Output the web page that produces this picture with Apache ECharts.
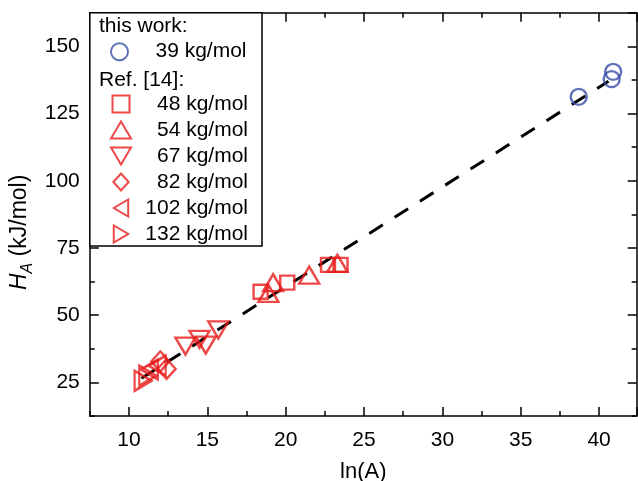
<!DOCTYPE html>
<html>
<head>
<meta charset="utf-8">
<script src="https://cdn.jsdelivr.net/npm/echarts@6/dist/echarts.min.js"></script>
<style>html,body{margin:0;padding:0;background:#fff}#c{width:638px;height:481px}</style>
</head>
<body>
<div id="c"></div>
<script>
// ---- data (ln(A), H_A in kJ/mol) ----
const thisWork39 = [[38.7, 131.2], [40.9, 140.5], [40.8, 137.8]];
const ref48  = [[18.4, 58.7], [20.1, 62.1], [22.7, 68.7], [23.5, 68.7]];
const ref54  = [[18.9, 58.1], [19.2, 62.1], [21.5, 64.9], [23.3, 69.3]];
const ref67  = [[13.6, 38.5], [14.5, 41.0], [14.9, 38.9], [15.7, 44.5]];
const ref82  = [[12.0, 32.8], [12.4, 30.0]];
const ref102 = [[11.3, 29.8], [11.8, 31.2]];
const ref132 = [[10.9, 25.6], [11.2, 27.5]];
const fitLine = [[10.8, 26.5], [40.6, 137.0]];
const seriesNames = ['39 kg/mol', '48 kg/mol', '54 kg/mol', '67 kg/mol', '82 kg/mol', '102 kg/mol', '132 kg/mol'];
const legendHeaders = ['this work:', 'Ref. [14]:'];
const xLabel = 'ln(A)';
const yLabelRich = '{i|H}{s|A} (kJ/mol)';

// ---- layout ----
const W = 638, H = 481;
const PL = 89.8, PR = 636.7, PT = 12.7, PB = 416;
const XMIN = 7.5, XMAX = 42.4, YMIN = 12.5, YMAX = 162.5;
const xpx = v => PL + (v - XMIN) / (XMAX - XMIN) * (PR - PL);
const ypx = v => PB - (v - YMIN) / (YMAX - YMIN) * (PB - PT);
const FONT = 'Liberation Sans, Arial, sans-serif';
const RED = '#e81c1c', BLUE = '#3a4ea8';
const lineW = 1.5;

const ICONS = {
  circle: 'circle',
  square: 'path://M0,0 L15,0 L15,15 L0,15 Z',
  up: 'path://M10,0 L20,17 L0,17 Z',
  down: 'path://M0,0 L20,0 L10,17 Z',
  diamond: 'path://M9,0 L18,10 L9,20 L0,10 Z',
  left: 'path://M0,10 L17,0 L17,20 Z',
  right: 'path://M0,0 L17,10 L0,20 Z'
};

const chart = echarts.init(document.getElementById('c'), null, {renderer: 'canvas'});

function minorX(pos) {
  return {gridIndex: 0, type: 'value', min: XMIN, max: XMAX, interval: 2.5, position: pos,
    axisLine: {show: true, onZero: false, lineStyle: {color: '#000', width: lineW}},
    axisTick: {show: true, inside: true, length: 5, lineStyle: {color: '#000', width: lineW}},
    axisLabel: {show: false}, splitLine: {show: false}};
}
function minorY(pos) {
  return {gridIndex: 0, type: 'value', min: YMIN, max: YMAX, interval: 12.5, position: pos,
    axisLine: {show: true, onZero: false, lineStyle: {color: '#000', width: lineW}},
    axisTick: {show: true, inside: true, length: 5, lineStyle: {color: '#000', width: lineW}},
    axisLabel: {show: false}, splitLine: {show: false}};
}

const xMain = minorX('bottom');
xMain.name = xLabel; xMain.nameLocation = 'middle'; xMain.nameGap = 45;
xMain.nameTextStyle = {fontSize: 22, color: '#000', fontFamily: FONT};
const yMain = minorY('left');
yMain.name = yLabelRich; yMain.nameLocation = 'middle'; yMain.nameGap = 54;
yMain.nameTextStyle = {fontSize: 23, color: '#000', fontFamily: FONT, padding: [0, 36, 0, 0],
  rich: {i: {fontSize: 23, fontStyle: 'italic', fontFamily: FONT, color: '#000'},
         s: {fontSize: 16, fontStyle: 'italic', fontFamily: FONT, color: '#000', verticalAlign: 'bottom', lineHeight: 32}}};

function scatter(name, data, symbol, size, color, rot) {
  return {name: name, type: 'scatter', xAxisIndex: 0, yAxisIndex: 0, data: data,
    symbol: symbol, symbolSize: size, symbolRotate: rot || 0,
    itemStyle: {color: 'rgba(255,255,255,0)', borderColor: color, borderWidth: 2.4},
    emphasis: {disabled: true}, z: 3};
}

const legendCommon = {orient: 'vertical', left: 110, itemWidth: 20, itemHeight: 17, itemGap: 5, padding: 0,
  selectedMode: false, z: 5,
  formatter: n => '{r|' + n + '}',
  textStyle: {fontSize: 21, color: '#000', fontFamily: FONT,
    rich: {r: {fontSize: 21, color: '#000', fontFamily: FONT, width: 112, align: 'right'}}}};

const legendIcons = [ICONS.circle, ICONS.square, ICONS.up, ICONS.down, ICONS.diamond, ICONS.left, ICONS.right];
const legendItems = seriesNames.map((n, i) => ({name: n, icon: legendIcons[i]}));

const gridBase = {outerBoundsMode: 'none', containLabel: false};

const option = {
  animation: false,
  backgroundColor: '#fff',
  textStyle: {fontFamily: FONT},
  grid: [
    Object.assign({left: PL, top: PT, right: W - PR, bottom: H - PB}, gridBase),
    Object.assign({left: xpx(10), top: PT, right: W - PR, bottom: H - PB}, gridBase),
    Object.assign({left: PL, top: PT, right: W - PR, bottom: H - ypx(25)}, gridBase)
  ],
  xAxis: [
    xMain,
    minorX('top'),
    {gridIndex: 1, type: 'value', min: 10, max: XMAX, interval: 5, position: 'bottom',
      axisLine: {show: false}, splitLine: {show: false},
      axisTick: {show: true, inside: true, length: 9, lineStyle: {color: '#000', width: lineW}},
      axisLabel: {fontSize: 21, color: '#000', fontFamily: FONT, margin: 14,
        formatter: v => (Math.abs(v % 5) < 1e-9 ? String(v) : '')}},
    {gridIndex: 1, type: 'value', min: 10, max: XMAX, interval: 5, position: 'top',
      axisLine: {show: false}, splitLine: {show: false}, axisLabel: {show: false},
      axisTick: {show: true, inside: true, length: 9, lineStyle: {color: '#000', width: lineW}}},
    {gridIndex: 2, type: 'value', min: 0, max: 1, show: false}
  ],
  yAxis: [
    yMain,
    minorY('right'),
    {gridIndex: 1, type: 'value', min: 0, max: 1, show: false},
    {gridIndex: 2, type: 'value', min: 25, max: YMAX, interval: 25, position: 'left',
      axisLine: {show: false}, splitLine: {show: false},
      axisTick: {show: true, inside: true, length: 9, lineStyle: {color: '#000', width: lineW}},
      axisLabel: {fontSize: 21, color: '#000', fontFamily: FONT, margin: 10,
        formatter: v => (Math.abs(v % 25) < 1e-9 ? String(v) : '')}},
    {gridIndex: 2, type: 'value', min: 25, max: YMAX, interval: 25, position: 'right',
      axisLine: {show: false}, splitLine: {show: false}, axisLabel: {show: false},
      axisTick: {show: true, inside: true, length: 9, lineStyle: {color: '#000', width: lineW}}}
  ],
  legend: [
    Object.assign({}, legendCommon, {top: 51.7 - 10.5, data: legendItems.slice(0, 1)}),
    Object.assign({}, legendCommon, {top: 104 - 10.5, data: legendItems.slice(1)})
  ],
  graphic: [
    {type: 'rect', shape: {x: PL, y: PT, width: 262 - PL, height: 246 - PT},
      style: {fill: '#fff', stroke: '#000', lineWidth: lineW}, z: 3.5, silent: true},
    {type: 'text', left: 99, top: 25 - 9, style: {text: legendHeaders[0], font: '21px ' + FONT, fill: '#000'}, z: 6},
    {type: 'text', left: 99, top: 78.3 - 9, style: {text: legendHeaders[1], font: '21px ' + FONT, fill: '#000'}, z: 6}
  ],
  series: [
    {name: 'fit', type: 'line', xAxisIndex: 0, yAxisIndex: 0, data: fitLine, symbol: 'none',
      lineStyle: {color: '#000', width: 3, type: [16, 14]}, z: 2, silent: true},
    scatter(seriesNames[1], ref48, 'rect', 14, RED),
    scatter(seriesNames[2], ref54, 'triangle', [20, 17], RED),
    scatter(seriesNames[3], ref67, 'triangle', [20, 17], RED, 180),
    scatter(seriesNames[4], ref82, 'diamond', [18, 20], RED),
    scatter(seriesNames[5], ref102, 'triangle', [20, 17], RED, 90),
    scatter(seriesNames[6], ref132, 'triangle', [20, 17], RED, -90),
    scatter(seriesNames[0], thisWork39, 'circle', 16, BLUE)
  ]
};
chart.setOption(option);
</script>
</body>
</html>
